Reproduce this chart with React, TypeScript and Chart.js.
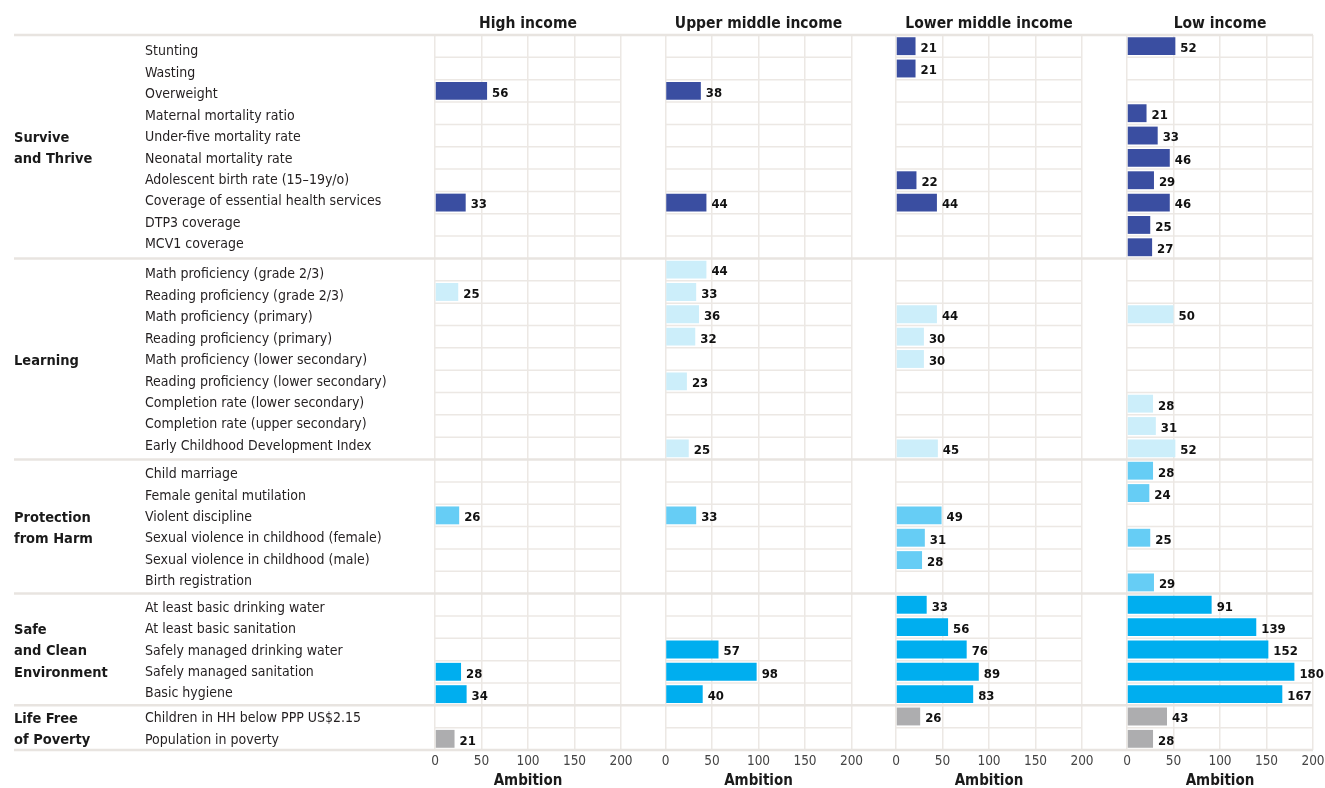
import React, { useEffect, useRef } from 'react';
import { Chart, registerables } from 'chart.js';

Chart.register(...registerables);

const FONT = "'Liberation Sans Narrow', 'DejaVu Sans Condensed', 'Roboto Condensed', 'Arial Narrow', 'Liberation Sans', sans-serif";

const indicators = [
  'Stunting',
  'Wasting',
  'Overweight',
  'Maternal mortality ratio',
  'Under-five mortality rate',
  'Neonatal mortality rate',
  'Adolescent birth rate (15–19y/o)',
  'Coverage of essential health services',
  'DTP3 coverage',
  'MCV1 coverage',
  'Math proficiency (grade 2/3)',
  'Reading proficiency (grade 2/3)',
  'Math proficiency (primary)',
  'Reading proficiency (primary)',
  'Math proficiency (lower secondary)',
  'Reading proficiency (lower secondary)',
  'Completion rate (lower secondary)',
  'Completion rate (upper secondary)',
  'Early Childhood Development Index',
  'Child marriage',
  'Female genital mutilation',
  'Violent discipline',
  'Sexual violence in childhood (female)',
  'Sexual violence in childhood (male)',
  'Birth registration',
  'At least basic drinking water',
  'At least basic sanitation',
  'Safely managed drinking water',
  'Safely managed sanitation',
  'Basic hygiene',
  'Children in HH below PPP US$2.15',
  'Population in poverty',
];

const groupNames = [
  ['Survive', 'and Thrive'],
  ['Learning'],
  ['Protection', 'from Harm'],
  ['Safe', 'and Clean', 'Environment'],
  ['Life Free', 'of Poverty'],
];
const groupSizes = [10, 9, 6, 5, 2];
const groupColors = ['#3A4EA1', '#CCEEFA', '#66CDF5', '#00AEEF', '#ADADAF'];

const incomeGroups = ['High income', 'Upper middle income', 'Lower middle income', 'Low income'];

const N = null;
const highIncome = [N, N, 56, N, N, N, N, 33, N, N, N, 25, N, N, N, N, N, N, N, N, N, 26, N, N, N, N, N, N, 28, 34, N, 21];
const upperMiddleIncome = [N, N, 38, N, N, N, N, 44, N, N, 44, 33, 36, 32, N, 23, N, N, 25, N, N, 33, N, N, N, N, N, 57, 98, 40, N, N];
const lowerMiddleIncome = [21, 21, N, N, N, N, 22, 44, N, N, N, N, 44, 30, 30, N, N, N, 45, N, N, 49, 31, 28, N, 33, 56, 76, 89, 83, 26, N];
const lowIncome = [52, N, N, 21, 33, 46, 29, 46, 25, 27, N, N, 50, N, N, N, 28, 31, 52, 28, 24, N, 25, N, 29, 91, 139, 152, 180, 167, 43, 28];

const xTicks = [0, 50, 100, 150, 200];
const axisTitle = 'Ambition';

const panelIds = ['x0', 'x1', 'x2', 'x3'];

export default function App() {
  const ref = useRef<HTMLCanvasElement | null>(null);

  useEffect(() => {
    if (!ref.current) return;

    const rowColors: string[] = [];
    const groupStarts: number[] = [];
    groupSizes.forEach((n, g) => {
      groupStarts.push(rowColors.length);
      for (let k = 0; k < n; k++) rowColors.push(groupColors[g]);
    });
    const groupBoundaries = new Set<number>();
    let acc = 0;
    groupSizes.forEach((n) => { acc += n; groupBoundaries.add(acc); });

    const series = [highIncome, upperMiddleIncome, lowerMiddleIncome, lowIncome];
    const gridColor = '#ECE8E4';
    const labelLine = 21.45;

    const groupCenter = (ys: any, g: number) => {
      const first = groupStarts[g];
      const last = first + groupSizes[g] - 1;
      return (ys.getPixelForValue(first) + ys.getPixelForValue(last)) / 2;
    };

    const decor = {
      id: 'decor',
      beforeDraw(chart: any) {
        // indicator labels are set as text lines centred on their group, like the original layout
        const ys = chart.scales.y;
        if (!ys || typeof ys.getLabelItems !== 'function') return;
        const items = ys.getLabelItems();
        if (!items || items.length !== indicators.length) return;
        groupSizes.forEach((n, g) => {
          const c = groupCenter(ys, g) + 1.5;
          for (let k = 0; k < n; k++) {
            const it = items[groupStarts[g] + k];
            if (it && it.options && it.options.translation) {
              it.options.translation[1] = c + (k - (n - 1) / 2) * labelLine;
            }
          }
        });
      },
      beforeDatasetsDraw(chart: any) {
        const ctx = chart.ctx;
        const ys = chart.scales.y;
        const { top, bottom } = chart.chartArea;
        const n = indicators.length;
        const boundary = (i: number) => {
          if (i === 0) return top;
          if (i === n) return bottom;
          return (ys.getPixelForValue(i - 1) + ys.getPixelForValue(i)) / 2;
        };
        ctx.save();
        ctx.strokeStyle = gridColor;
        ctx.lineWidth = 1.5;
        panelIds.forEach((id) => {
          const s = chart.scales[id];
          for (let i = 1; i < n; i++) {
            if (groupBoundaries.has(i)) continue;
            const y = boundary(i);
            ctx.beginPath();
            ctx.moveTo(s.left, y);
            ctx.lineTo(s.right, y);
            ctx.stroke();
          }
        });
        const rightEdge = chart.scales.x3.right;
        ctx.lineWidth = 2.5;
        ctx.strokeStyle = '#E8E4E0';
        const gl = [0, ...Array.from(groupBoundaries)];
        gl.forEach((i) => {
          const y = boundary(i);
          ctx.beginPath();
          ctx.moveTo(14, y);
          ctx.lineTo(rightEdge, y);
          ctx.stroke();
        });
        ctx.restore();
      },
      afterDatasetsDraw(chart: any) {
        const ctx = chart.ctx;
        ctx.save();
        ctx.font = `bold 13px ${FONT}`;
        ctx.fillStyle = '#111111';
        ctx.textAlign = 'left';
        ctx.textBaseline = 'middle';
        series.forEach((data, d) => {
          const meta = chart.getDatasetMeta(d);
          meta.data.forEach((bar: any, i: number) => {
            const v = data[i];
            if (v === null || v === undefined) return;
            ctx.fillText(String(v), bar.x + 5, bar.y + 2.5);
          });
        });
        ctx.restore();
      },
      afterDraw(chart: any) {
        const ctx = chart.ctx;
        const ys = chart.scales.y;
        ctx.save();
        ctx.fillStyle = '#1A1A1A';
        ctx.textBaseline = 'middle';
        ctx.font = `bold 15.5px ${FONT}`;
        ctx.textAlign = 'center';
        panelIds.forEach((id, p) => {
          const s = chart.scales[id];
          ctx.fillText(incomeGroups[p], (s.left + s.right) / 2, 23.5);
        });
        ctx.font = `bold 14.5px ${FONT}`;
        ctx.textAlign = 'left';
        groupNames.forEach((lines, g) => {
          const cy = groupCenter(ys, g) + 2;
          lines.forEach((t, k) => {
            ctx.fillText(t, 14, cy + (k - (lines.length - 1) / 2) * 21.5);
          });
        });
        ctx.restore();
      },
    };

    const panelScale = (weight: number) => ({
      type: 'linear',
      position: 'bottom',
      stack: 'panels',
      stackWeight: weight,
      min: 0,
      max: 200,
      afterBuildTicks: (s: any) => { s.ticks = xTicks.map((v) => ({ value: v })); },
      afterFit: (s: any) => { s.height = 38; s.paddingLeft = 0; s.paddingRight = 0; },
      grid: { color: gridColor, lineWidth: 1.5, drawTicks: false },
      border: { display: false },
      ticks: {
        padding: 3,
        maxRotation: 0,
        minRotation: 0,
        autoSkip: false,
        color: '#444444',
        font: { family: FONT, size: 13.5 },
      },
      title: {
        display: true,
        text: axisTitle,
        color: '#1A1A1A',
        padding: { top: 0, bottom: -2 },
        font: { family: FONT, size: 15, weight: 'bold' },
      },
    });
    const spacerScale = (weight: number) => ({
      type: 'linear',
      position: 'bottom',
      stack: 'panels',
      stackWeight: weight,
      min: 0,
      max: 1,
      afterFit: (s: any) => { s.height = 38; s.paddingLeft = 0; s.paddingRight = 0; },
      grid: { display: false, drawTicks: false },
      border: { display: false },
      ticks: { display: false },
    });

    const chart = new Chart(ref.current, {
      type: 'bar',
      data: {
        labels: indicators,
        datasets: series.map((data, d) => ({
          label: incomeGroups[d],
          data: data as any,
          xAxisID: panelIds[d],
          yAxisID: 'y',
          backgroundColor: rowColors,
          borderWidth: 0,
          grouped: false,
          barPercentage: 0.8,
          categoryPercentage: 1,
        })),
      },
      options: {
        indexAxis: 'y',
        animation: false,
        responsive: false,
        events: [],
        layout: { padding: { left: 145, top: 35, right: 0, bottom: 0 } },
        plugins: { legend: { display: false }, tooltip: { enabled: false } },
        scales: {
          y: {
            type: 'category',
            position: 'left',
            offset: true,
            grid: { display: false, drawTicks: false },
            border: { display: false },
            afterFit: (s: any) => { s.width = 290; },
            ticks: {
              autoSkip: false,
              crossAlign: 'far',
              padding: 0,
              color: '#231F20',
              font: { family: FONT, size: 14 },
            },
          },
          x0: panelScale(186),
          s0: spacerScale(44.5),
          x1: panelScale(186),
          s1: spacerScale(44.5),
          x2: panelScale(186),
          s2: spacerScale(45),
          x3: panelScale(186),
          s3: spacerScale(12),
        } as any,
      },
      plugins: [decor],
    } as any);

    return () => chart.destroy();
  }, []);

  return (
    <div style={{ position: 'absolute', left: 0, top: 0, width: 1325, height: 788, background: '#ffffff' }}>
      <canvas ref={ref} width={1325} height={788} style={{ display: 'block' }} />
    </div>
  );
}
